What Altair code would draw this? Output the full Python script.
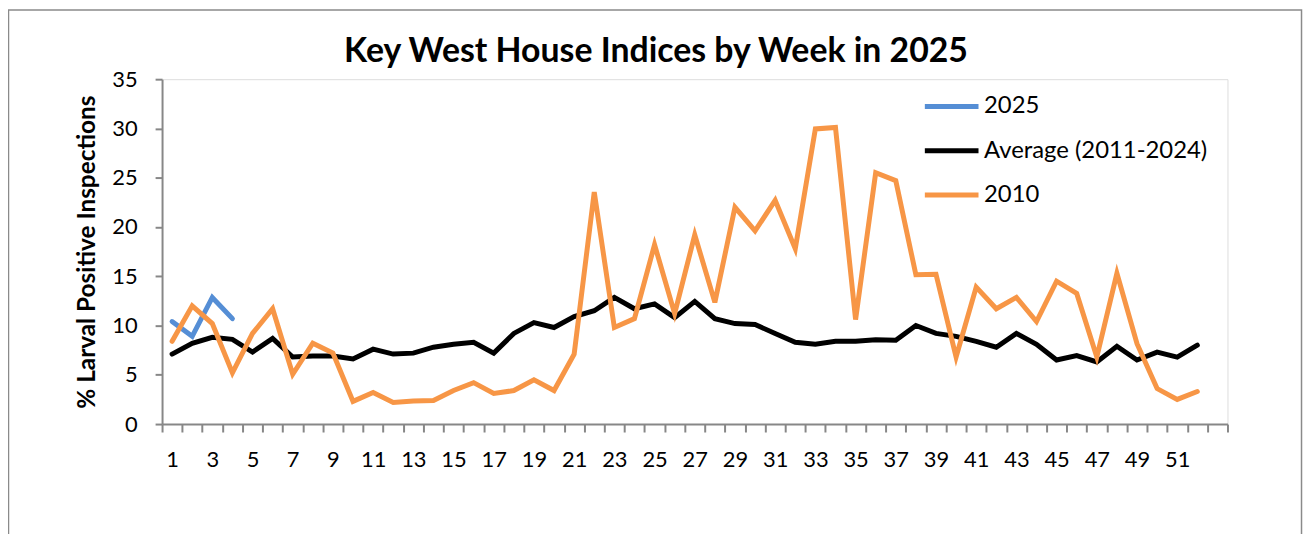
import altair as alt
import pandas as pd

weeks = list(range(1, 53))
week_domain = list(range(1, 54))
weeks_2025 = [1, 2, 3, 4]
vals_2025 = [10.4, 8.9, 12.85, 10.7]
vals_avg = [7.1, 8.2, 8.8, 8.6, 7.3, 8.7, 6.8, 6.9, 6.9, 6.6,
            7.6, 7.1, 7.2, 7.8, 8.1, 8.3, 7.2, 9.2, 10.3, 9.8,
            10.9, 11.5, 12.85, 11.7, 12.2, 10.8, 12.45, 10.7, 10.2, 10.1,
            9.2, 8.3, 8.1, 8.4, 8.4, 8.55, 8.5, 10.0, 9.2, 8.9,
            8.4, 7.8, 9.2, 8.1, 6.5, 6.95, 6.3, 7.9, 6.5, 7.3,
            6.8, 8.0]
vals_2010 = [8.4, 12.0, 10.2, 5.2, 9.2, 11.7, 5.05, 8.2, 7.2, 2.3,
             3.2, 2.2, 2.35, 2.4, 3.4, 4.2, 3.1, 3.4, 4.5, 3.4,
             7.1, 23.55, 9.8, 10.7, 18.2, 11.2, 19.2, 12.35, 22.0, 19.6,
             22.7, 17.8, 29.95, 30.1, 10.6, 25.5, 24.7, 15.15, 15.2, 6.8,
             13.9, 11.7, 12.85, 10.4, 14.5, 13.25, 6.8, 15.3, 8.15, 3.6,
             2.5, 3.3]
series_names = ["2025", "Average (2011-2024)", "2010"]
series_colors = ["#558ED5", "#000000", "#F79646"]
y_ticks = [0, 5, 10, 15, 20, 25, 30, 35]
title_text = "Key West House Indices by Week in 2025"

df = pd.concat([
    pd.DataFrame({"week": weeks_2025, "value": vals_2025, "series": series_names[0]}),
    pd.DataFrame({"week": weeks, "value": vals_avg, "series": series_names[1]}),
    pd.DataFrame({"week": weeks, "value": vals_2010, "series": series_names[2]}),
])

W, H = 1072, 347
FONT = "Lato"
GRAY = "#878787"

x_enc = alt.X(
    "week:O",
    bandPosition=0.5,
    scale=alt.Scale(type="band", domain=week_domain, paddingInner=0, paddingOuter=0),
    axis=alt.Axis(
        title=None, grid=False, labelAngle=0, tickBand="extent",
        labelExpr="(datum.value % 2 == 1 && datum.value <= 51) ? datum.label : ''",
        labelOverlap=False, labelFlush=False, labelBound=False,
        tickSize=8, labelPadding=18, labelFontSize=22, labelFont=FONT,
        labelColor="#000000", domainColor=GRAY, tickColor=GRAY,
        domainWidth=2, tickWidth=2,
    ),
)
y_enc = alt.Y(
    "value:Q",
    scale=alt.Scale(domain=[0, 35], nice=False),
    axis=alt.Axis(
        values=y_ticks, grid=False, title="% Larval Positive Inspections",
        titleFont=FONT, titleFontSize=24.5, titleFontWeight="bold", titleColor="#000000",
        titleAngle=-90, titleX=-68, titleY=H / 2, titleAlign="center", titleBaseline="alphabetic",
        titleLimit=500,
        tickSize=7, labelPadding=18, labelFontSize=22, labelFont=FONT, labelColor="#000000",
        domainColor=GRAY, tickColor=GRAY, domainWidth=2, tickWidth=2,
    ),
)
color_enc = alt.Color(
    "series:N",
    scale=alt.Scale(domain=series_names, range=series_colors),
    legend=alt.Legend(
        title=None, orient="none", legendX=765, legendY=-2,
        symbolType="stroke", symbolSize=2916, symbolStrokeWidth=5,
        labelFontSize=24, labelFont=FONT, labelColor="#000000", labelOffset=3,
        labelLimit=400, rowPadding=2.5, padding=0,
    ),
)

layers = []
for name in series_names:
    layers.append(
        alt.Chart(df[df["series"] == name]).mark_line(strokeWidth=5, strokeCap="round", strokeJoin="miter")
        .encode(x=x_enc, y=y_enc, color=color_enc)
    )

frame = alt.Chart(pd.DataFrame({"a": [0]})).mark_rect(fill=None, stroke="#8a8a8a", strokeWidth=1.5).encode(
    x=alt.value(-154.5), x2=alt.value(1146.5), y=alt.value(-69.5), y2=alt.value(700)
)

title = alt.Chart(pd.DataFrame({"t": [title_text]})).mark_text(
    font=FONT, fontSize=34, fontWeight="bold", color="#000000", align="center", baseline="alphabetic"
).encode(text="t:N", x=alt.value(497), y=alt.value(-17))

chart = alt.layer(frame, *layers, title).properties(
    width=W, height=H,
    autosize=alt.AutoSizeParams(type="none"),
    padding={"left": 155, "top": 70, "right": 77, "bottom": 109},
).configure_view(stroke=GRAY, strokeWidth=2).configure(background="white")

chart.save("out.html", embed_options={"renderer": "svg", "actions": False})
